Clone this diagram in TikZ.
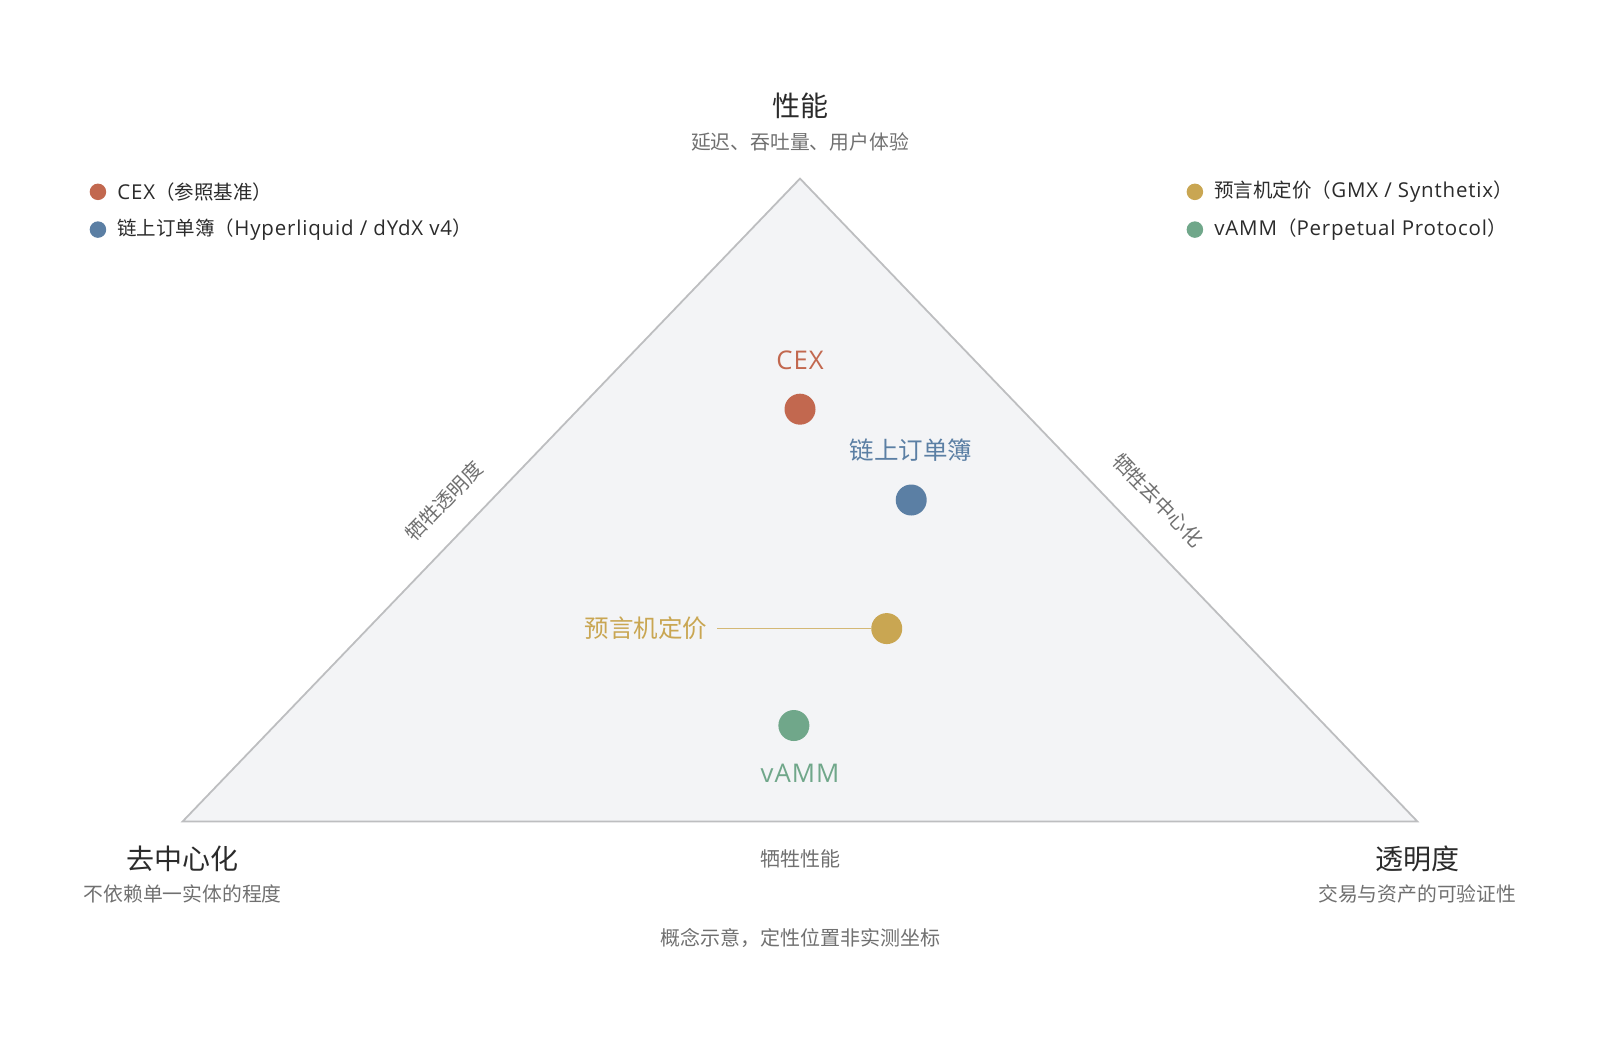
\documentclass[tikz,border=0pt]{standalone}
\usepackage{fontspec}
\setmainfont{Noto Sans CJK SC}
\newfontfamily\latin[Scale=1.05, LetterSpace=4]{Open Sans}
\usepackage{tikz}
\usetikzlibrary{positioning}
\definecolor{cexred}{HTML}{C2684F}
\definecolor{bookblue}{HTML}{5B7FA4}
\definecolor{oraclegold}{HTML}{C9A652}
\definecolor{ammgreen}{HTML}{70A78A}
\definecolor{trifill}{HTML}{F3F4F6}
\definecolor{triline}{HTML}{BDBEC0}
\definecolor{darktext}{HTML}{2B2B2B}
\definecolor{greytext}{HTML}{707070}
\tikzset{
  basic/.style  = {inner sep=0pt, outer sep=0pt},
  corner/.style = {basic, text=darktext, font=\fontsize{28}{32}\selectfont},
  corner sub/.style = {basic, text=greytext, font=\fontsize{19.8}{23}\selectfont},
  side/.style   = {basic, text=greytext, font=\fontsize{20}{23}\selectfont},
  legend/.style = {basic, anchor=west, text=darktext, font=\fontsize{19.5}{23}\selectfont},
  legend dot/.style = {circle, minimum size=16.5pt, inner sep=0pt},
  point/.style  = {circle, minimum size=31pt, inner sep=0pt},
  point label/.style = {basic, font=\fontsize{24.5}{28}\selectfont}
}

\begin{document}
\begin{tikzpicture}[x=1.0204pt, y=-1.0204pt]
	\useasboundingbox (0,0) rectangle (1568,1019.2);
	
	% the triangle itself
	\coordinate (top) at (784,175);
	\coordinate (left) at (179,805);
	\coordinate (right) at (1389,805);
	\draw[triline, fill=trifill, line width=1.8pt] (top) -- (left) -- (right) -- cycle;
	
	% corners
	\node[corner] (perf) at (784,104) {性能};
	\node[corner sub] (perfsub) at (784,139) {延迟、吞吐量、用户体验};
	\node[corner] (decen) at (179,842) {去中心化};
	\node[corner sub] (decensub) at (179,876) {不依赖单一实体的程度};
	\node[corner] (transp) at (1389,842) {透明度};
	\node[corner sub] (transpsub) at (1389,876) {交易与资产的可验证性};
	
	% sides
	\node[side, rotate=46] (lside) at (435,491) {牺牲透明度};
	\node[side, rotate=-46] (rside) at (1135,490) {牺牲去中心化};
	\node[side] (bside) at (784,842) {牺牲性能};
	
	% legend
	\node[legend dot, fill=cexred] (lg1) at (96,188) {};
	\node[legend, right=11pt of lg1] (lgt1) {{\latin CEX}（参照基准）};
	\node[legend dot, fill=bookblue] (lg2) at (96,225) {};
	\node[legend, right=11pt of lg2] (lgt2) {链上订单簿（{\latin Hyperliquid / dYdX v4}）};
	\node[legend dot, fill=oraclegold] (lg3) at (1171,188) {};
	\node[legend, right=11pt of lg3] (lgt3) {预言机定价（{\latin GMX / Synthetix}）};
	\node[legend dot, fill=ammgreen] (lg4) at (1171,225) {};
	\node[legend, right=11pt of lg4] (lgt4) {{\latin vAMM}（{\latin Perpetual Protocol}）};
	
	% the four designs
	\node[point, fill=cexred] (cex) at (784,401) {};
	\node[point label, text=cexred] (cexl) at (784,353) {\latin CEX};
	\node[point, fill=bookblue] (book) at (893,490) {};
	\node[point label, text=bookblue] (bookl) at (893,441) {链上订单簿};
	\node[point, fill=oraclegold] (oracle) at (869,616) {};
	\node[point label, text=oraclegold, anchor=east] (oraclel) at (693,616) {预言机定价};
	\node[point, fill=ammgreen] (amm) at (778,711) {};
	\node[point label, text=ammgreen] (amml) at (784,758) {\latin vAMM};
	
	\draw[oraclegold!80, line width=1.6pt] ([xshift=10pt]oraclel.east) -- (oracle.west);
	
	% note
	\node[side] (note) at (784,919) {概念示意，定性位置非实测坐标};
	
\end{tikzpicture}
\end{document}
